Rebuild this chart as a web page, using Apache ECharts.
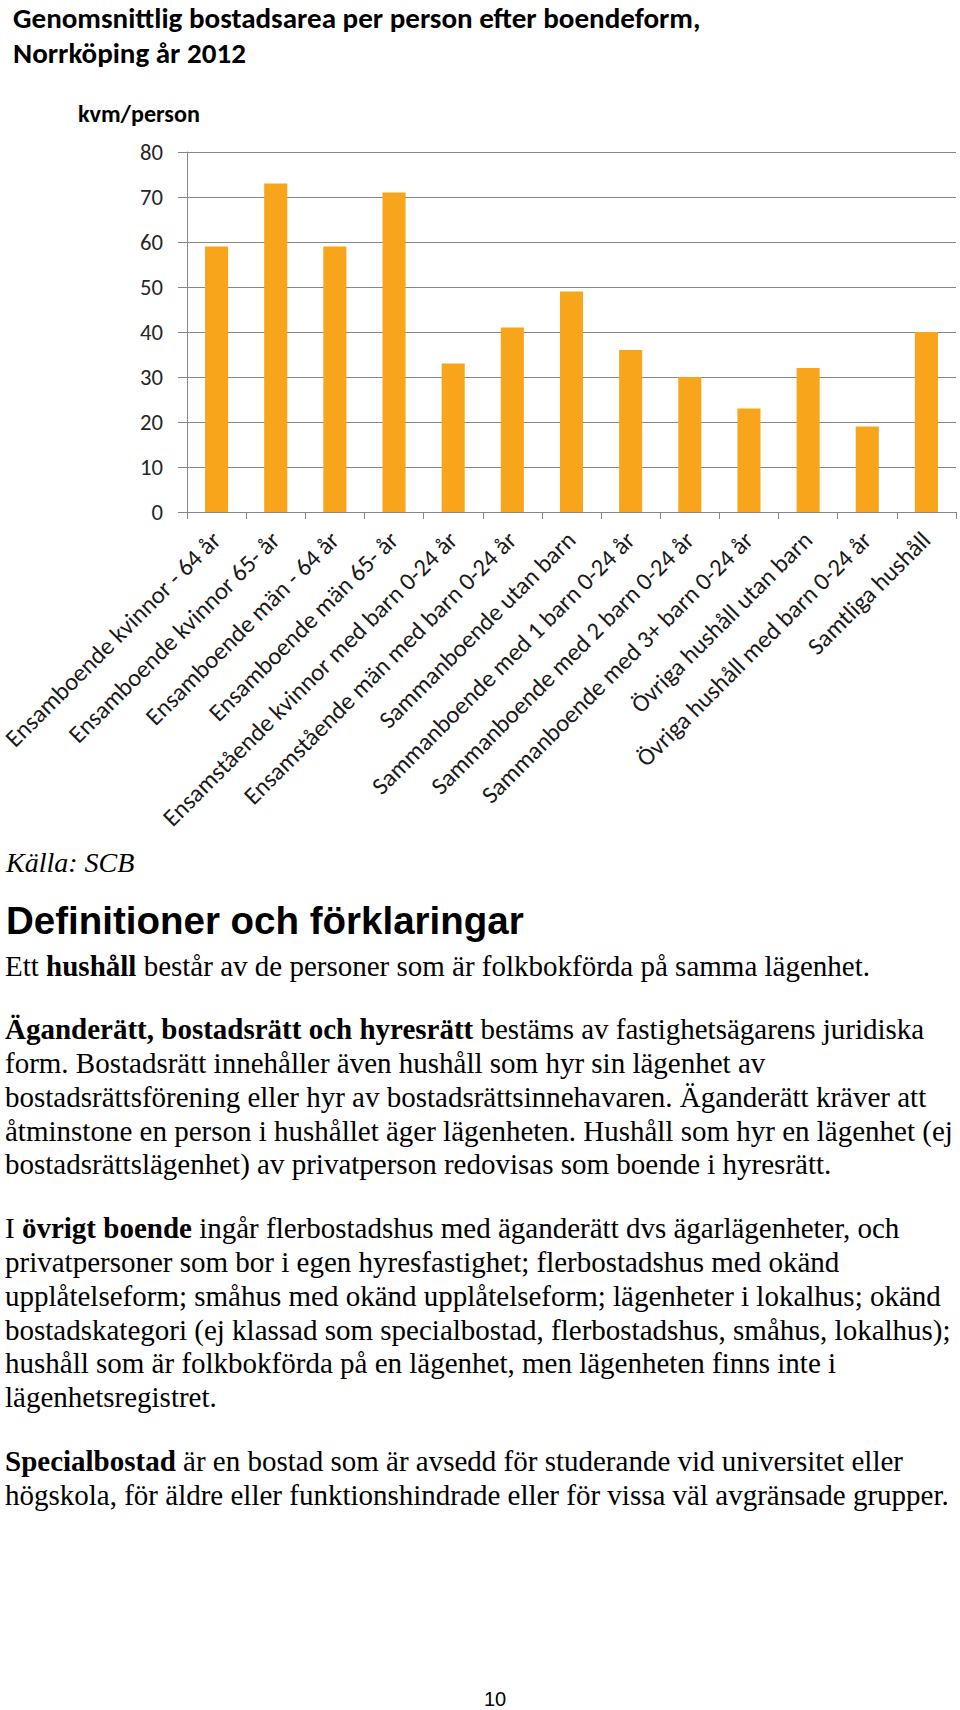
<!DOCTYPE html>
<html>
<head>
<meta charset="utf-8">
<script src="https://cdn.jsdelivr.net/npm/echarts@6/dist/echarts.min.js"></script>
<style>
html,body{margin:0;padding:0;background:#fff;}
#page{position:relative;width:960px;height:1710px;overflow:hidden;background:#fff;}
#chart{position:absolute;left:0;top:0;width:960px;height:840px;}
.txt{position:absolute;left:5px;white-space:nowrap;font-family:"Liberation Serif","Times New Roman",serif;font-size:29px;line-height:33.7px;color:#000;}
.src{position:absolute;left:6px;white-space:nowrap;font-family:"Liberation Serif","Times New Roman",serif;font-size:28px;line-height:33.7px;color:#000;font-style:italic;}
.head{position:absolute;left:6px;white-space:nowrap;font-family:"Liberation Sans",Arial,sans-serif;font-weight:bold;font-size:38.5px;line-height:40px;color:#000;}
.pnum{position:absolute;left:460px;width:70px;text-align:center;font-family:"Liberation Sans",Arial,sans-serif;font-size:20px;line-height:24px;color:#000;}
</style>
</head>
<body>
<div id="page">
  <div id="chart"></div>
  <div class="src" style="top:845.7px;">Källa: SCB</div>
  <div class="head" style="top:900.7px;">Definitioner och förklaringar</div>
  <div class="txt" style="top:950.4px;">Ett <b>hushåll</b> består av de personer som är folkbokförda på samma lägenhet.</div>
  <div class="txt" style="top:1013.4px;"><b>Äganderätt, bostadsrätt och hyresrätt</b> bestäms av fastighetsägarens juridiska<br>form. Bostadsrätt innehåller även hushåll som hyr sin lägenhet av<br>bostadsrättsförening eller hyr av bostadsrättsinnehavaren. Äganderätt kräver att<br>åtminstone en person i hushållet äger lägenheten. Hushåll som hyr en lägenhet (ej<br>bostadsrättslägenhet) av privatperson redovisas som boende i hyresrätt.</div>
  <div class="txt" style="top:1212.4px;">I <b>övrigt boende</b> ingår flerbostadshus med äganderätt dvs ägarlägenheter, och<br>privatpersoner som bor i egen hyresfastighet; flerbostadshus med okänd<br>upplåtelseform; småhus med okänd upplåtelseform; lägenheter i lokalhus; okänd<br>bostadskategori (ej klassad som specialbostad, flerbostadshus, småhus, lokalhus);<br>hushåll som är folkbokförda på en lägenhet, men lägenheten finns inte i<br>lägenhetsregistret.</div>
  <div class="txt" style="top:1445.4px;"><b>Specialbostad</b> är en bostad som är avsedd för studerande vid universitet eller<br>högskola, för äldre eller funktionshindrade eller för vissa väl avgränsade grupper.</div>
  <div class="pnum" style="top:1687px;">10</div>
</div>
<script>
// ---- data ----
const titleLines = ['Genomsnittlig bostadsarea per person efter boendeform,', 'Norrköping år 2012'];
const unitLabel = 'kvm/person';
const categories = [
  'Ensamboende kvinnor - 64 år',
  'Ensamboende kvinnor 65- år',
  'Ensamboende män - 64 år',
  'Ensamboende män 65- år',
  'Ensamstående kvinnor med barn 0-24 år',
  'Ensamstående män med barn 0-24 år',
  'Sammanboende utan barn',
  'Sammanboende med 1 barn 0-24 år',
  'Sammanboende med 2 barn 0-24 år',
  'Sammanboende med 3+ barn 0-24 år',
  'Övriga hushåll utan barn',
  'Övriga hushåll med barn 0-24 år',
  'Samtliga hushåll'
];
const values = [59, 73, 59, 71, 33, 41, 49, 36, 30, 23, 32, 19, 40];
const yMin = 0, yMax = 80, yStep = 10;

// ---- fonts sized to match reference widths ----
const FAM = 'Carlito, Lato, "Open Sans", sans-serif';
const cv = document.createElement('canvas').getContext('2d');
function fit(text, weight, target) {
  cv.font = weight + ' 100px ' + FAM;
  return 100 * target / cv.measureText(text).width;
}
const titleSize = fit(titleLines[0], 'bold', 688);
const unitSize = fit(unitLabel, 'bold', 122);
const ySize = fit('80', 'normal', 23);
const xSize = fit(categories[4], 'normal', 405);

const grey = '#878787';
const chart = echarts.init(document.getElementById('chart'), null, {renderer: 'svg'});
chart.setOption({
  animation: false,
  graphic: [
    {type: 'text', x: 13, y: 17.5, style: {text: titleLines[0], fontFamily: FAM, fontWeight: 'bold', fontSize: titleSize, lineHeight: Math.round(titleSize), fill: '#000', verticalAlign: 'middle'}},
    {type: 'text', x: 13, y: 53, style: {text: titleLines[1], fontFamily: FAM, fontWeight: 'bold', fontSize: titleSize, lineHeight: Math.round(titleSize), fill: '#000', verticalAlign: 'middle'}},
    {type: 'text', x: 78, y: 113, style: {text: unitLabel, fontFamily: FAM, fontWeight: 'bold', fontSize: unitSize, fill: '#000', verticalAlign: 'middle'}}
  ],
  grid: {left: 187, right: 4, top: 152, bottom: 328, containLabel: false, outerBoundsMode: 'none'},
  xAxis: {
    type: 'category',
    data: categories,
    axisLine: {show: true, lineStyle: {color: grey, width: 1}},
    axisTick: {show: true, length: 7, lineStyle: {color: grey}},
    axisLabel: {rotate: 45, interval: 0, margin: 24, fontFamily: FAM, fontSize: xSize, color: '#1a1a1a'},
    splitLine: {show: false}
  },
  yAxis: {
    type: 'value',
    min: yMin, max: yMax, interval: yStep,
    axisLine: {show: true, lineStyle: {color: grey, width: 1}},
    axisTick: {show: true, length: 9, lineStyle: {color: grey}},
    axisLabel: {margin: 24, fontFamily: FAM, fontSize: ySize, color: '#262626'},
    splitLine: {show: true, lineStyle: {color: grey, width: 1}}
  },
  series: [{
    type: 'bar',
    data: values,
    barWidth: '39%',
    itemStyle: {color: '#F8A51C'}
  }]
});
</script>
</body>
</html>
